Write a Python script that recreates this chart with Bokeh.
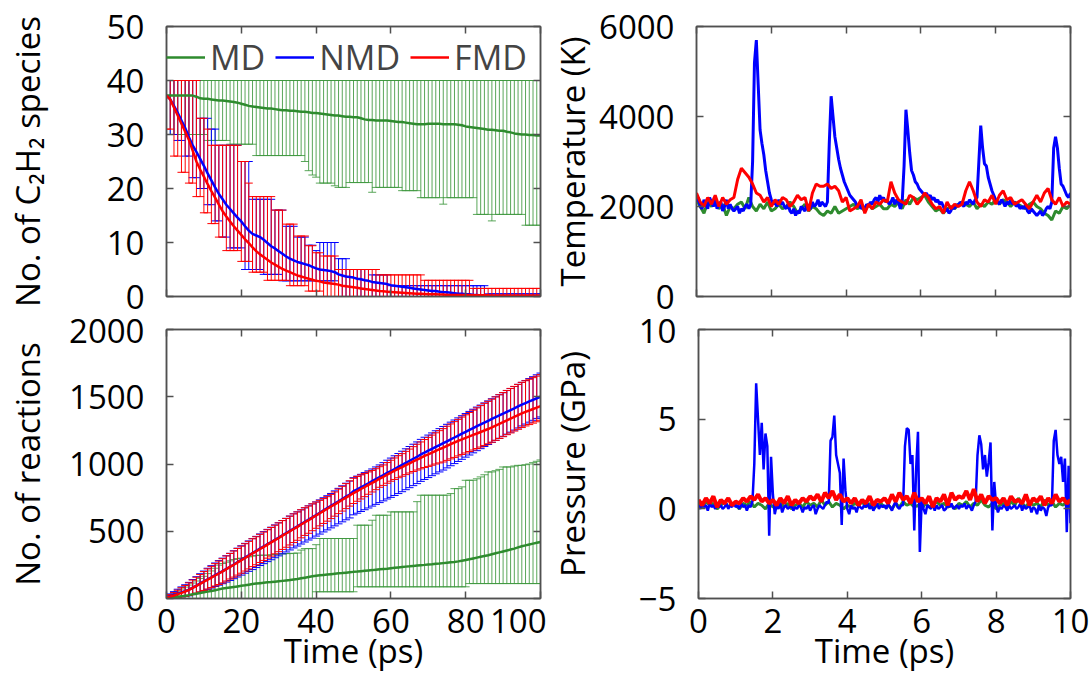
from bokeh.plotting import figure
from bokeh.layouts import column, row
from bokeh.models import (ColumnDataSource, Whisker, TeeHead, LinearAxis,
                          FixedTicker, Range1d, Legend, LegendItem)
from bokeh.embed import file_html
from bokeh.resources import INLINE

# ====================== DATA ======================
# 100-ps runs, sampled every 1 ps
time_ps = list(range(0, 101))

# --- number of C2H2 species (mean and min/max bars) ---
md_mean = [37.2,37.2,37.2,37.2,37.2,37.2,37.2,37.2,37.0,36.7,
           36.6,36.6,36.5,36.4,36.3,36.3,36.2,36.1,36.0,35.9,
           35.7,35.5,35.3,35.2,35.1,35.0,34.9,34.8,34.8,34.7,
           34.6,34.5,34.5,34.4,34.4,34.3,34.2,34.2,34.1,34.0,
           34.0,33.9,33.8,33.7,33.6,33.5,33.5,33.4,33.3,33.3,
           33.2,33.2,33.0,32.8,32.7,32.7,32.6,32.6,32.6,32.6,
           32.5,32.4,32.3,32.3,32.2,32.1,32.0,31.9,31.9,31.9,
           32.0,32.0,32.0,32.0,31.9,31.9,31.9,31.9,31.8,31.7,
           31.5,31.4,31.3,31.2,31.1,31.0,30.9,30.9,30.8,30.7,
           30.7,30.5,30.4,30.2,30.1,30.0,30.0,29.9,29.9,29.8,
           29.8]
md_lo = [30.0,30.0,30.0,30.0,30.0,30.0,30.0,30.0,30.0,30.0,
         30.0,28.9,28.9,28.9,28.9,28.9,28.9,28.2,28.2,28.2,
         28.2,28.2,28.2,28.2,26.1,26.1,26.1,26.1,26.1,26.1,
         26.1,26.1,26.1,26.1,26.1,26.1,26.1,25.0,23.3,22.5,
         22.1,21.0,21.0,21.0,21.0,20.5,20.2,20.2,20.2,21.1,
         21.1,21.1,21.1,21.1,21.1,19.3,20.2,20.2,20.2,20.2,
         20.2,20.2,20.2,19.6,19.6,19.6,19.6,19.6,18.3,18.3,
         18.3,18.3,18.3,18.3,17.1,18.3,18.3,18.3,18.3,18.3,
         18.3,18.3,18.3,15.2,15.2,15.2,15.2,14.0,15.2,15.2,
         15.2,15.2,15.2,15.2,15.2,15.2,13.2,13.2,13.2,13.2,
         13.2]
md_hi = [40] * 101  # MD maximum stays at the initial 40 molecules

nmd_mean = [37.2,36.5,35.3,34.0,32.6,31.2,29.5,28.0,26.8,25.5,
            24.2,22.8,21.5,20.2,19.0,18.0,17.0,16.2,15.4,14.6,
            13.9,13.0,12.2,11.6,11.3,11.0,10.5,9.9,9.3,8.9,
            8.4,7.9,7.4,7.0,6.7,6.4,6.2,6.0,5.8,5.5,
            5.2,5.0,4.9,4.8,4.7,4.5,4.1,3.9,3.7,3.6,
            3.5,3.3,3.2,3.0,2.9,2.7,2.6,2.5,2.4,2.3,
            2.1,2.0,1.9,1.8,1.7,1.6,1.5,1.4,1.3,1.2,
            1.1,1.0,1.0,0.9,0.8,0.8,0.7,0.6,0.5,0.5,
            0.4,0.4,0.3,0.3,0.2,0.1,0.1,0.1,0.1,0.1,
            0.1,0.1,0.1,0.1,0.1,0.1,0.1,0.1,0.1,0.1,
            0.1]
nmd_lo = [30,30,30,28.9,28.9,26,26,22,22,20,
          20,17,17,14,14,11,11,9,9,9,
          9,5,5,5,5,5,4.1,4.1,4.1,4.1,
          4.1,2.9,2.9,2.9,2.9,2.9,2.9,2.9,2.9,2.9,
          2.9,2.9,2.9,2.9,2.9,2.9,0,0,0,0,
          0,0,0,0,0,0,0,0,0,0,
          0,0,0,0,0,0,0,0,0,0,
          0,0,0,0,0,0,0,0,0,0,
          0,0,0,0,0,0,0,0,0,0,
          0,0,0,0,0,0,0,0,0,0,
          0]
nmd_hi = [40,40,40,40,40,40,40,40,40,33,
          33,33,31,31,28,28,28,28,28,28,
          25,25,25,18,18,18,18,18,18,16,
          16,16,13,13,13,11,11,11,9.5,9.5,
          8.5,10,10,10,10,10,7,7,7,5,
          5,5,5,5,5,4,4,4,4,4,
          2,2,2,2,2,2,2,2,2,2,
          2,2,2,2,2,2,2,2,2,2,
          2,2,2,2,2,2,0.5,0.5,0.5,0.5,
          0.5,0.5,0.5,0.5,0.5,0.5,0.5,0.5,0.5,0.5,
          0.5]

fmd_mean = [37.2,36.5,35.0,33.5,32.0,30.5,29.0,27.0,25.0,23.5,
            22.2,20.8,19.5,18.3,17.0,15.8,14.8,13.9,13.0,12.2,
            11.4,10.6,9.9,9.1,8.4,7.8,7.3,6.8,6.3,5.9,
            5.5,5.1,4.8,4.5,4.2,3.9,3.7,3.5,3.3,3.1,
            2.9,2.8,2.6,2.5,2.4,2.3,2.2,2.0,1.9,1.8,
            1.7,1.6,1.5,1.4,1.3,1.2,1.1,1.0,0.95,0.9,
            0.85,0.8,0.75,0.7,0.65,0.6,0.55,0.5,0.5,0.45,
            0.4,0.4,0.4,0.35,0.35,0.3,0.3,0.3,0.3,0.3,
            0.3,0.3,0.25,0.25,0.25,0.25,0.25,0.2,0.2,0.2,
            0.2,0.2,0.2,0.2,0.2,0.2,0.2,0.2,0.2,0.2,
            0.2]
fmd_lo = [31,31,26,26,23,23,21,21,18.5,18.5,
          15.5,15.5,13.5,13.5,11,11,8.5,8.5,8.5,8.5,
          6.5,6.5,6.5,4.5,4.5,4.5,4.5,3,3,3,
          3,3,3,2,2,2,2,2,1,1,
          1,1,0,0,0,0,0,0,0,0,
          0,0,0,0,0,0,0,0,0,0,
          0,0,0,0,0,0,0,0,0,0,
          0,0,0,0,0,0,0,0,0,0,
          0,0,0,0,0,0,0,0,0,0,
          0,0,0,0,0,0,0,0,0,0,
          0]
fmd_hi = [40,40,40,40,40,40,40,40,40,33,
          33,31,28,28,28,28,28,28,28,28,
          25,25,21,18.5,18.5,18.5,18.5,18.5,18.5,16,
          16,16,13.4,13.4,13.4,11.2,11.2,11.2,9.4,9.4,
          8.1,8.1,7.5,7.5,7.5,7.5,5,5,5,5,
          5,5,5,5,5,5,5,4,4,4,
          4,4,4,4,4,4,4,4,4,3,
          3,3,3,3,3,3,3,3,3,3,
          3,3,1.5,1.5,1.5,1.5,1.5,1.5,1.5,1.5,
          1.5,1.5,1.5,1.5,1.5,1.5,1.5,1.5,1.5,1.5,
          1.5]

# --- cumulative number of reactions ---
md_rx = [0,4,8,13,17,21,25,31,36,41,
         46,51,56,62,68,74,78,82,86,90,
         94,98,103,108,111,114,117,120,122,125,
         128,131,134,137,141,145,150,155,160,165,
         169,172,175,178,181,184,187,189,192,195,
         198,200,203,206,209,211,214,217,220,222,
         225,228,231,234,237,239,242,245,248,250,
         253,255,258,260,263,266,269,272,276,281,
         286,292,298,304,310,316,322,329,336,343,
         350,357,364,371,380,388,395,402,408,414,
         420]
md_rx_lo = [0,0,0,0,0,0,0,0,0,0,
            0,0,0,0,0,0,0,0,0,0,
            0,0,0,0,0,0,0,0,0,0,
            0,0,0,0,0,0,0,0,0,0,
            50,50,50,50,50,50,50,50,50,50,
            50,87,87,87,87,87,87,87,87,87,
            87,87,87,87,87,87,87,87,87,87,
            87,87,87,87,87,87,87,87,87,87,
            87,111,111,111,111,111,111,111,111,111,
            111,111,111,111,111,111,111,111,111,111,
            111]
md_rx_hi = [20,30,40,55,70,85,100,115,130,149,
            165,185,205,225,248,260,270,280,290,297,
            300,305,310,315,320,322,322,322,325,328,
            330,332,334,334,336,338,360,371,371,371,
            400,446,446,446,446,446,446,446,446,446,
            446,545,545,545,545,582,619,619,619,619,
            644,644,644,644,644,644,644,720,768,768,
            768,768,768,768,768,768,780,817,817,830,
            879,879,879,890,904,920,941,941,950,960,
            978,978,978,985,990,990,995,1000,1010,1020,
            1030]

nmd_rx = [8,16,26,36,46,55,66,81,96,112,
          127,143,158,174,189,204,220,236,253,270,
          287,304,321,337,354,371,387,404,420,437,
          453,470,486,503,520,536,553,570,587,603,
          620,637,655,672,689,706,723,740,757,773,
          798,812,827,842,857,873,888,903,918,934,
          948,963,978,993,1009,1024,1039,1054,1071,1085,
          1099,1113,1127,1141,1155,1169,1183,1197,1211,1225,
          1239,1253,1267,1281,1294,1308,1321,1335,1348,1361,
          1374,1388,1401,1414,1428,1441,1453,1465,1477,1489,
          1500]
nmd_rx_up = [12,18,25,33,40,47,54,60,66,72,
             77,82,86,90,93,96,98,100,102,104,
             105,106,107,108,108,109,110,110,110,110,
             110,110,110,110,110,108,106,104,102,100,
             98,96,94,92,92,94,96,98,100,100,
             100,98,96,94,92,90,90,90,92,94,
             96,98,100,102,104,106,108,110,112,114,
             116,118,120,122,124,126,128,130,132,134,
             136,138,140,142,144,146,148,150,152,154,
             156,158,160,162,164,166,168,170,172,174,
             176]
nmd_rx_dn = [10,16,22,28,34,40,46,52,58,64,
             70,75,80,85,90,94,98,102,106,110,
             113,116,119,122,124,126,128,130,132,134,
             136,138,140,142,144,146,148,150,152,154,
             156,158,160,162,164,166,168,170,172,174,
             176,178,180,182,184,186,188,190,192,194,
             196,197,198,199,200,200,200,200,200,200,
             200,200,200,200,200,198,196,194,192,190,
             188,186,184,182,180,178,176,174,172,170,
             168,166,164,162,160,158,156,154,152,150,
             150]

fmd_rx = [8,14,22,32,42,52,64,79,94,109,
          125,140,155,171,186,201,218,235,251,268,
          284,301,318,336,351,368,384,401,417,434,
          450,467,483,500,517,533,550,567,582,600,
          617,634,651,667,684,700,717,734,750,767,
          784,799,814,829,845,860,875,892,905,921,
          936,950,964,977,991,1005,1019,1033,1046,1060,
          1072,1085,1098,1110,1121,1135,1148,1160,1172,1183,
          1194,1205,1216,1227,1238,1249,1260,1272,1285,1298,
          1311,1325,1338,1351,1364,1377,1388,1398,1409,1419,
          1430]
fmd_rx_up = [10,15,22,30,38,45,52,58,64,70,
             75,80,84,88,92,95,98,100,102,104,
             105,106,107,108,108,109,110,110,111,111,
             112,112,112,112,112,111,110,108,106,104,
             100,96,92,90,90,92,96,100,104,108,
             110,108,105,100,96,92,90,88,88,90,
             92,95,98,100,103,106,110,114,118,122,
             126,130,134,138,142,146,150,155,160,166,
             172,178,184,190,196,202,206,210,214,217,
             220,222,224,226,228,230,231,232,233,234,
             235]
fmd_rx_dn = [8,12,18,24,30,36,42,48,54,60,
             65,70,74,78,82,85,88,90,92,94,
             96,97,98,99,100,100,101,101,102,102,
             102,102,102,102,101,100,99,98,97,96,
             95,94,93,92,90,88,86,84,82,80,
             78,76,74,72,70,68,66,65,64,64,
             64,65,66,68,70,72,75,78,82,86,
             90,94,98,102,106,108,110,111,112,112,
             112,112,112,112,112,111,110,110,109,108,
             108,107,107,106,106,106,105,105,105,105,
             105]

# 10-ps runs: MD / FMD every 0.1 ps, NMD every 0.05 ps
t_md = [round(0.1 * i, 2) for i in range(101)]
t_nmd = [round(0.05 * i, 2) for i in range(201)]

md_temp = [2150,2000,1850,2100,2000,2150,1950,2050,1800,2000,1950,
           2050,2100,1950,2200,2000,1900,2050,1950,2100,1900,
           1950,2050,1950,2000,2100,2000,1850,1950,2050,1900,
           2000,1950,1850,1800,1900,1850,2000,1850,1900,1950,
           2000,2050,1950,2000,1900,2050,1950,2000,2050,1950,
           1950,2050,2000,2100,1950,2150,2050,2200,2150,2200,
           2250,2100,2000,1900,1950,1850,1950,2000,1950,2050,
           2100,2050,2000,2100,1950,2050,2000,2100,2050,2150,
           2050,2150,2100,2000,2100,2050,2000,1950,2050,2100,
           2000,1950,1850,1800,1700,1900,1850,2000,1950,2050]
fmd_temp = [2300,2100,2000,2200,2050,2250,2000,2200,2050,2150,2200,
            2600,2850,2750,2650,2500,2300,2250,2100,2200,2000,
            2150,2050,2200,2150,2000,2100,2250,2150,2200,1900,
            2300,2500,2450,2450,2500,2400,2450,2350,2100,2200,
            1900,1950,2000,2150,1850,2050,1950,2100,2050,2150,
            2100,2550,2300,2150,2100,2050,2250,2200,2050,2150,
            2300,2200,2050,1950,2000,1850,2100,1950,2050,2000,
            2050,2350,2550,2350,2100,2000,2150,2100,2250,2050,
            2250,2350,2150,2200,2050,2100,2150,2050,1950,2100,
            2250,2100,2300,2400,2150,2050,2200,2000,2100,2050]
nmd_temp = [2100,2200,2000,1950,2150,2050,1950,2200,2100,2000,
            2150,1950,2050,2100,1900,2000,2150,1950,2050,1950,
            1900,1950,2000,1850,1950,1900,2000,2050,1950,2050,
            3000,5200,5700,4700,3700,3400,3150,2800,2550,2300,
            2150,2050,2100,2000,2150,2050,2100,2000,1950,2050,
            1900,1850,1950,1800,1900,1850,2000,1950,1900,2050,
            2000,1950,2100,2000,2050,2150,2000,2100,2050,2000,
            2100,3400,4450,4000,3550,3300,3050,2850,2700,2550,
            2450,2350,2250,2200,2150,2100,2000,2050,1950,2000,
            1950,2050,2000,2100,2050,2150,2200,2100,2250,2150,
            2200,2100,2150,2050,2100,2200,2050,2150,2100,1950,
            2100,2900,4150,3700,3200,2800,2700,2550,2500,2400,
            2350,2300,2250,2300,2200,2250,2150,2200,2100,2150,
            2050,2100,2000,1900,1950,1850,1900,2000,1950,2050,
            2000,2100,2050,2000,2100,2050,2150,2100,2050,2150,
            2200,3000,3800,3300,2950,2900,2650,2500,2350,2250,
            2150,2100,2050,2150,2100,2000,2100,2050,2150,2050,
            2100,2000,2050,1950,2000,1950,2050,1900,1850,1950,
            1900,1850,1800,1850,1900,1800,1850,1950,2000,1950,
            2100,3300,3550,3300,2850,2500,2450,2350,2250,2200,
            2300]

md_press = [0.3,0.1,0.4,0.2,0.3,0.0,0.2,0.4,0.1,0.3,0.2,
            0.0,0.3,0.2,0.4,0.1,0.3,0.2,0.0,0.3,0.1,
            0.2,0.4,0.1,0.3,0.0,0.2,0.3,0.1,0.4,0.2,
            0.3,0.1,0.5,0.2,0.4,0.1,0.3,0.2,0.0,0.2,
            0.1,0.3,0.2,0.4,0.1,0.3,0.0,0.2,0.3,0.1,
            0.2,0.0,0.3,0.1,0.4,0.2,0.3,0.1,0.2,0.0,
            0.3,0.1,0.2,0.4,0.2,0.3,0.1,0.2,0.0,0.3,
            0.2,0.4,0.1,0.3,0.2,0.5,0.2,0.1,0.3,0.0,
            0.2,0.3,0.1,0.4,0.2,0.6,0.3,0.1,0.4,0.2,
            0.3,0.1,0.5,0.2,0.4,0.1,0.3,0.2,0.4,0.3]
fmd_press = [0.5,0.2,0.6,0.3,0.7,0.1,0.5,0.3,0.6,0.2,0.4,
             0.3,0.6,0.4,0.7,0.5,0.8,0.4,0.6,0.3,0.5,
             0.2,0.6,0.3,0.7,0.2,0.5,0.3,0.6,0.4,0.7,
             0.5,0.8,0.4,0.9,0.6,1.0,0.5,0.8,0.4,0.6,
             0.3,0.6,0.2,0.5,0.3,0.7,0.2,0.5,0.4,0.6,
             0.3,0.8,0.4,0.9,0.5,0.7,0.3,0.9,0.4,0.6,
             0.3,0.7,0.1,0.6,0.4,0.8,0.2,0.9,0.5,0.7,
             0.6,1.0,0.5,1.1,0.4,0.8,0.3,0.7,0.5,0.6,
             0.3,0.6,0.2,0.7,0.4,0.5,0.3,0.8,0.2,0.6,
             0.4,0.7,0.2,0.6,0.3,0.8,0.4,0.6,0.3,0.5]
nmd_press = [0.2,0.0,0.3,0.1,0.2,-0.1,0.3,0.1,0.2,0.0,
             0.3,0.1,0.2,0.0,0.1,0.3,0.0,0.2,0.1,0.3,
             0.1,0.2,0.0,0.3,0.1,0.2,-0.1,0.2,0.1,0.4,
             2.5,7.0,5.0,3.0,4.8,2.2,4.2,3.5,-1.5,2.9,
             0.8,-0.3,0.2,0.0,0.3,-0.2,0.1,0.2,0.0,0.1,
             0.2,-0.1,0.1,0.0,0.2,0.1,-0.2,0.1,0.0,0.2,
             -0.1,0.1,0.2,-0.3,0.0,0.2,0.1,0.0,0.2,0.4,
             0.3,3.8,4.0,5.2,3.0,2.5,2.0,-0.9,2.8,1.0,
             0.0,-0.3,0.2,0.0,0.1,-0.2,0.2,0.1,0.0,0.2,
             0.1,0.3,0.0,0.2,-0.1,0.1,0.3,0.0,0.2,0.1,
             0.2,0.0,0.3,0.1,-0.1,0.2,0.4,0.1,0.0,0.2,
             0.2,3.5,4.5,4.4,2.5,3.0,-1.2,2.2,4.3,-2.4,
             0.5,0.0,-0.3,0.2,0.1,0.0,0.3,-0.1,0.2,0.0,
             0.1,0.2,-0.1,0.0,0.2,0.1,0.3,0.0,0.1,0.2,
             0.0,0.2,0.1,0.3,0.0,0.2,0.1,-0.1,0.2,0.4,
             3.0,4.1,3.6,2.2,3.0,1.8,2.6,3.7,-1.2,1.5,
             0.2,-0.2,0.1,0.0,0.2,0.1,-0.1,0.2,0.0,0.1,
             0.2,0.0,0.1,0.3,-0.1,0.2,0.0,0.1,0.2,-0.2,
             0.1,0.0,-0.3,0.2,-0.1,0.1,0.0,-0.4,0.1,0.2,
             0.2,3.8,4.4,3.0,2.5,2.9,1.5,2.8,-1.3,2.4,
             -0.8]

series_names = ["MD", "NMD", "FMD"]
x_ticks_long = [0, 20, 40, 60, 80, 100]
x_ticks_short = [0, 2, 4, 6, 8, 10]
y_ticks_species = [0, 10, 20, 30, 40, 50]
y_ticks_reactions = [0, 500, 1000, 1500, 2000]
y_ticks_temp = [0, 2000, 4000, 6000]
y_ticks_press = [-5, 0, 5, 10]

# ====================== STYLE ======================
FONT = "Open Sans"
FS = "33px"
AX = "#505050"
GREEN = "#2e8b2e"
GREEN_BAR = "#3d963d"
BLUE = "#0000ff"
RED = "#ff0000"


def make_fig(w, h, xr, yr, borders):
    p = figure(width=w, height=h, x_range=Range1d(*xr), y_range=Range1d(*yr),
               output_backend="svg", toolbar_location=None,
               min_border_left=borders[0], min_border_right=borders[1],
               min_border_top=borders[2], min_border_bottom=borders[3])
    p.grid.visible = False
    p.outline_line_color = AX
    p.outline_line_width = 1.5
    p.background_fill_color = "white"
    p.border_fill_color = "white"
    return p


def dress_axis(ax, ticks, show_labels, overrides=None):
    ax.ticker = FixedTicker(ticks=ticks)
    ax.major_tick_in = 7
    ax.major_tick_out = 0
    ax.minor_tick_line_color = None
    ax.axis_line_color = AX
    ax.axis_line_width = 1.5
    ax.major_tick_line_color = AX
    ax.major_tick_line_width = 1.5
    ax.axis_label_text_font = FONT
    ax.axis_label_text_font_size = FS
    ax.axis_label_text_font_style = "normal"
    ax.axis_label_text_color = "black"
    if show_labels:
        ax.major_label_text_font = FONT
        ax.major_label_text_font_size = FS
        ax.major_label_text_color = "black"
        if overrides:
            ax.major_label_overrides = overrides
    else:
        ax.major_label_text_font_size = "0px"
        ax.major_label_text_color = None
        ax.major_label_standoff = 0


def setup(p, xticks, yticks, xlabels, yover=None):
    xb = p.xaxis[0]
    yl = p.yaxis[0]
    dress_axis(xb, xticks, xlabels)
    dress_axis(yl, yticks, True, yover)
    top = LinearAxis()
    dress_axis(top, xticks, False)
    right = LinearAxis()
    dress_axis(right, yticks, False)
    p.add_layout(top, "above")
    p.add_layout(right, "right")
    return xb, yl


def bars(p, x, lo, hi, color, alpha=1.0):
    src = ColumnDataSource(dict(x=x, lo=lo, hi=hi))
    w = Whisker(source=src, base="x", lower="lo", upper="hi",
                line_color=color, line_width=1, line_alpha=alpha,
                lower_head=TeeHead(size=8, line_color=color, line_width=1, line_alpha=alpha),
                upper_head=TeeHead(size=8, line_color=color, line_width=1, line_alpha=alpha),
                level="underlay")
    p.add_layout(w)


# ---------- top-left: C2H2 species ----------
p1 = make_fig(546, 318, (0, 100), (0, 50), (166, 6, 26, 22))
x1, y1 = setup(p1, x_ticks_long, y_ticks_species, False)
y1.axis_label = "No. of C\u2082H\u2082 species"
y1.major_label_standoff = 22
y1.axis_label_standoff = 54

bars(p1, time_ps, md_lo, md_hi, GREEN_BAR, 0.85)
bars(p1, time_ps, nmd_lo, nmd_hi, BLUE)
bars(p1, time_ps, fmd_lo, fmd_hi, RED)
g1 = p1.line(time_ps, md_mean, line_color=GREEN, line_width=2.5)
b1 = p1.line(time_ps, nmd_mean, line_color=BLUE, line_width=2.5)
r1 = p1.line(time_ps, fmd_mean, line_color=RED, line_width=2.5)

leg = Legend(items=[LegendItem(label=series_names[0], renderers=[g1]),
                    LegendItem(label=series_names[1], renderers=[b1]),
                    LegendItem(label=series_names[2], renderers=[r1])],
             orientation="horizontal", location="top_left", margin=0, padding=2,
             spacing=10, glyph_width=39, glyph_height=62, label_standoff=5,
             label_text_font=FONT, label_text_font_size="34px",
             background_fill_alpha=0, border_line_color=None)
p1.add_layout(leg)

# ---------- top-right: temperature ----------
p2 = make_fig(544, 318, (0, 10), (0, 6000), (150, 20, 26, 22))
x2, y2 = setup(p2, x_ticks_short, y_ticks_temp, False)
y2.axis_label = "Temperature (K)"
y2.major_label_standoff = 22
y2.axis_label_standoff = 1
p2.line(t_md, md_temp, line_color=GREEN, line_width=3)
p2.line(t_nmd, nmd_temp, line_color=BLUE, line_width=3)
p2.line(t_md, fmd_temp, line_color=RED, line_width=3)

# ---------- bottom-left: reactions ----------
p3 = make_fig(546, 368, (0, 100), (0, 2000), (166, 6, 11, 88))
x3, y3 = setup(p3, x_ticks_long, y_ticks_reactions, True)
y3.axis_label = "No. of reactions"
x3.axis_label = "Time (ps)"
y3.major_label_standoff = 22
y3.axis_label_standoff = 16
x3.major_label_standoff = 10
x3.axis_label_standoff = -8

nmd_rx_lo = [m - d for m, d in zip(nmd_rx, nmd_rx_dn)]
nmd_rx_hi = [m + u for m, u in zip(nmd_rx, nmd_rx_up)]
fmd_rx_lo = [m - d for m, d in zip(fmd_rx, fmd_rx_dn)]
fmd_rx_hi = [m + u for m, u in zip(fmd_rx, fmd_rx_up)]
bars(p3, time_ps, md_rx_lo, md_rx_hi, GREEN_BAR, 0.85)
bars(p3, time_ps, nmd_rx_lo, nmd_rx_hi, BLUE)
bars(p3, time_ps, fmd_rx_lo, fmd_rx_hi, RED)
p3.line(time_ps, md_rx, line_color=GREEN, line_width=2.5)
p3.line(time_ps, nmd_rx, line_color=BLUE, line_width=2.5)
p3.line(time_ps, fmd_rx, line_color=RED, line_width=2.5)

# ---------- bottom-right: pressure ----------
p4 = make_fig(544, 368, (0, 10), (-5, 10), (150, 20, 11, 88))
x4, y4 = setup(p4, x_ticks_short, y_ticks_press, True, {-5: "\u22125"})
y4.axis_label = "Pressure (GPa)"
x4.axis_label = "Time (ps)"
y4.major_label_standoff = 22
y4.axis_label_standoff = 41
x4.major_label_standoff = 10
x4.axis_label_standoff = -8
p4.line(t_md, md_press, line_color=GREEN, line_width=3)
p4.line(t_nmd, nmd_press, line_color=BLUE, line_width=2.5)
p4.line(t_md, fmd_press, line_color=RED, line_width=4)

layout = column(row(p1, p2), row(p3, p4))
page = file_html(layout, INLINE)
# the reference crops the bottom label; keep the page from scrolling
page = page.replace("</head>", "<style>html, body { overflow: hidden; }</style>\n</head>", 1)
open("out.html", "w").write(page)
